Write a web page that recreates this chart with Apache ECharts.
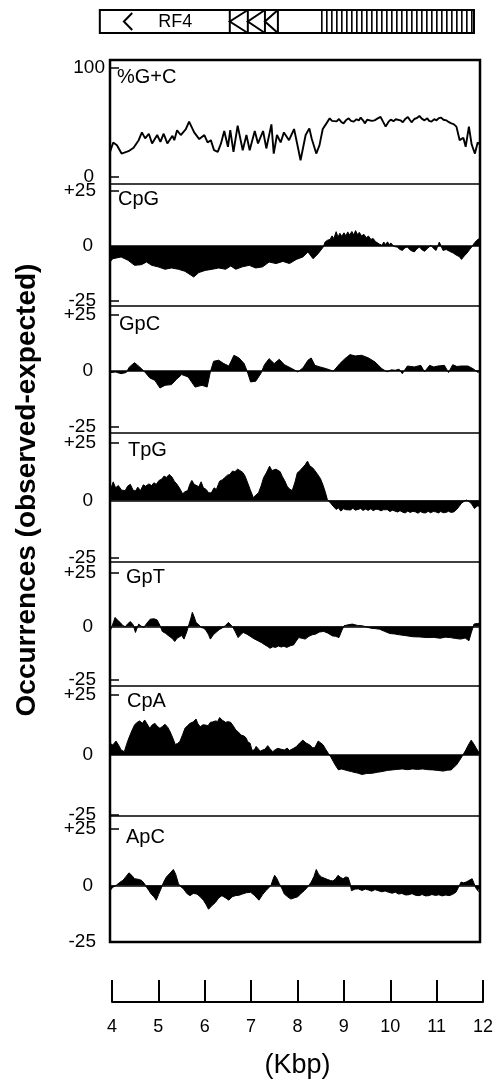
<!DOCTYPE html>
<html>
<head>
<meta charset="utf-8">
<script src="https://cdn.jsdelivr.net/npm/echarts@6.0.0/dist/echarts.min.js"></script>
<style>
html, body { margin: 0; padding: 0; background: #fff; }
#chart { width: 502px; height: 1084px; }
</style>
</head>
<body>
<div id="chart"></div>
<script>
// ---- data (kbp, value) ----
var kbpTicks = [4, 5, 6, 7, 8, 9, 10, 11, 12];
var panelNames = ['%G+C', 'CpG', 'GpC', 'TpG', 'GpT', 'CpA', 'ApC'];
var gcTicks = [0, 100];
var diTicks = [-25, 25];
var diLabels = [-25, 0, 25];

// gene map: [start kbp, end kbp, kind, text]
var geneMap = [
  [3.78, 11.87, 'box'],
  [4.30, 4.48, 'arrow'],
  [5.41, 5.41, 'label', 'RF4'],
  [6.59, 6.98, 'chevron'],
  [6.98, 7.35, 'chevron'],
  [7.35, 7.63, 'chevron'],
  [7.63, 7.63, 'edge'],
  [8.58, 11.87, 'repeat']
];

var gcData = [[4.00,23.1],[4.07,31.7],[4.15,29.2],[4.25,21.5],[4.40,23.7],[4.51,26.8],[4.62,33.8],[4.69,40.9],[4.76,35.4],[4.84,39.7],[4.91,30.8],[5.02,38.5],[5.09,32.3],[5.16,39.7],[5.24,30.8],[5.35,37.8],[5.39,33.8],[5.45,42.8],[5.53,38.5],[5.64,44.0],[5.71,50.8],[5.82,40.9],[5.93,34.8],[6.04,38.5],[6.11,31.7],[6.18,33.8],[6.25,24.6],[6.33,23.1],[6.40,30.8],[6.47,42.2],[6.55,27.7],[6.60,43.1],[6.67,23.1],[6.76,47.1],[6.87,24.6],[6.95,38.5],[7.02,24.6],[7.13,42.2],[7.20,30.8],[7.31,42.2],[7.38,26.2],[7.49,48.3],[7.54,21.5],[7.61,38.5],[7.69,31.7],[7.76,40.9],[7.87,33.8],[7.98,44.0],[8.05,29.8],[8.12,15.4],[8.23,38.5],[8.31,44.6],[8.36,35.4],[8.46,21.5],[8.53,29.2],[8.60,44.0],[8.68,49.2],[8.75,53.8],[8.80,51.5],[8.84,52.8],[8.90,51.0],[8.95,53.2],[9.00,50.5],[9.05,49.2],[9.10,52.0],[9.16,53.8],[9.21,51.5],[9.27,50.8],[9.33,53.0],[9.38,51.8],[9.42,54.5],[9.47,52.0],[9.51,49.2],[9.56,52.5],[9.60,53.8],[9.66,51.5],[9.72,52.0],[9.78,53.5],[9.85,55.1],[9.90,51.0],[9.96,46.2],[10.02,50.5],[10.07,52.6],[10.13,51.2],[10.18,53.0],[10.22,53.8],[10.28,52.0],[10.33,50.2],[10.39,53.5],[10.44,55.1],[10.48,52.5],[10.52,50.2],[10.58,53.2],[10.63,54.0],[10.69,56.0],[10.74,53.5],[10.80,52.0],[10.86,53.8],[10.90,51.5],[10.95,50.8],[11.01,53.0],[11.06,52.0],[11.11,54.0],[11.16,54.5],[11.21,52.5],[11.27,52.0],[11.32,50.5],[11.38,49.2],[11.43,48.5],[11.49,46.2],[11.56,33.8],[11.64,36.0],[11.69,27.7],[11.76,46.2],[11.82,29.8],[11.89,21.5],[11.95,31.7],[12.00,29.8]];

var cpgData = [[4.00,-7.3],[4.06,-5.8],[4.24,-5.0],[4.39,-6.5],[4.53,-8.8],[4.68,-8.5],[4.79,-7.3],[4.90,-8.8],[5.04,-9.5],[5.19,-10.6],[5.33,-10.0],[5.48,-10.6],[5.62,-11.5],[5.73,-13.0],[5.81,-14.1],[5.92,-12.1],[6.06,-11.1],[6.21,-10.6],[6.35,-10.0],[6.50,-10.6],[6.61,-9.1],[6.72,-10.6],[6.86,-9.5],[7.01,-8.8],[7.15,-10.0],[7.30,-9.5],[7.44,-7.3],[7.59,-8.0],[7.74,-7.0],[7.88,-8.0],[8.03,-6.1],[8.17,-5.0],[8.28,-2.7],[8.39,-5.8],[8.50,-3.5],[8.61,-0.5],[8.65,1.8],[8.70,2.6],[8.76,3.0],[8.80,4.6],[8.84,3.4],[8.89,6.5],[8.93,4.0],[8.97,5.8],[9.01,4.4],[9.06,6.0],[9.10,4.6],[9.14,6.4],[9.18,5.0],[9.23,6.6],[9.27,5.0],[9.31,7.0],[9.35,5.2],[9.39,6.2],[9.44,4.6],[9.49,5.3],[9.54,3.8],[9.59,4.5],[9.64,3.0],[9.69,3.4],[9.74,2.0],[9.78,2.4],[9.83,0.8],[9.88,0.3],[9.92,1.8],[9.96,0.6],[10.00,1.9],[10.04,0.4],[10.07,1.4],[10.14,-0.2],[10.21,-0.5],[10.27,-1.6],[10.32,-2.0],[10.38,-0.8],[10.43,-0.5],[10.50,-2.0],[10.58,-2.7],[10.64,-1.2],[10.69,-0.5],[10.75,-1.8],[10.80,-2.4],[10.87,-1.0],[10.94,0.3],[11.00,-1.2],[11.05,-2.0],[11.12,1.8],[11.20,-2.0],[11.27,-1.6],[11.34,-2.4],[11.42,-3.2],[11.49,-4.2],[11.55,-4.8],[11.60,-6.1],[11.66,-4.5],[11.71,-3.5],[11.77,-1.8],[11.82,-0.5],[11.88,1.4],[11.93,2.6],[12.00,3.6]];

var gpcData = [[4.00,-0.7],[4.12,-0.5],[4.24,-1.2],[4.35,-0.7],[4.42,1.8],[4.53,3.7],[4.64,1.8],[4.75,-0.4],[4.86,-3.1],[4.97,-4.2],[5.08,-7.6],[5.19,-6.4],[5.33,-6.1],[5.44,-3.7],[5.55,-1.6],[5.69,-2.7],[5.84,-7.2],[5.99,-6.4],[6.10,-7.2],[6.17,-0.4],[6.24,4.3],[6.35,4.8],[6.46,3.3],[6.57,2.2],[6.68,7.0],[6.79,5.8],[6.90,3.3],[6.97,-0.4],[7.04,-4.9],[7.15,-4.6],[7.26,-1.2],[7.34,2.8],[7.44,5.5],[7.55,3.3],[7.66,5.2],[7.77,2.8],[7.91,1.3],[8.06,-0.4],[8.17,1.3],[8.28,4.8],[8.35,5.8],[8.43,2.5],[8.54,1.8],[8.68,1.0],[8.83,-0.1],[8.97,3.3],[9.08,5.5],[9.19,7.3],[9.30,6.7],[9.44,7.0],[9.59,5.8],[9.73,4.0],[9.88,1.0],[9.99,-0.4],[10.08,0.5],[10.17,0.3],[10.25,0.8],[10.32,-1.2],[10.43,2.2],[10.58,1.8],[10.72,2.5],[10.80,-0.4],[10.91,2.5],[11.00,1.8],[11.09,2.2],[11.23,2.5],[11.32,-0.7],[11.41,2.8],[11.50,2.0],[11.59,2.2],[11.74,2.2],[11.85,1.0],[11.96,-0.7],[12.00,0.3]];

var tpgData = [[4.00,4.1],[4.07,8.1],[4.12,5.5],[4.18,6.5],[4.25,4.5],[4.33,4.3],[4.38,6.2],[4.44,7.0],[4.50,4.5],[4.55,4.1],[4.60,5.8],[4.66,4.3],[4.72,6.8],[4.77,6.2],[4.84,7.2],[4.90,6.5],[4.95,7.7],[5.00,7.0],[5.06,8.7],[5.12,9.3],[5.17,10.6],[5.22,10.0],[5.28,11.3],[5.34,10.2],[5.39,8.4],[5.45,7.0],[5.50,5.5],[5.57,2.9],[5.62,3.8],[5.68,4.3],[5.73,7.2],[5.77,8.7],[5.82,7.0],[5.86,7.7],[5.92,6.0],[5.97,8.1],[6.02,5.5],[6.08,4.8],[6.13,3.4],[6.19,3.3],[6.25,5.5],[6.30,4.8],[6.37,8.4],[6.43,9.0],[6.48,9.9],[6.54,11.0],[6.59,11.3],[6.65,12.8],[6.70,12.5],[6.76,13.6],[6.81,13.0],[6.87,12.2],[6.92,10.6],[6.98,7.5],[7.03,4.8],[7.10,1.2],[7.16,2.5],[7.21,3.3],[7.27,6.5],[7.32,9.9],[7.38,12.0],[7.45,14.9],[7.50,13.0],[7.54,12.8],[7.59,13.6],[7.63,14.2],[7.68,12.5],[7.72,10.6],[7.78,8.5],[7.83,6.2],[7.88,5.0],[7.94,4.3],[8.00,8.0],[8.05,12.0],[8.10,12.8],[8.16,14.2],[8.22,15.5],[8.27,17.1],[8.32,15.0],[8.38,14.2],[8.43,13.0],[8.49,11.3],[8.55,9.5],[8.60,7.0],[8.65,4.0],[8.70,0.4],[8.78,-1.4],[8.84,-2.8],[8.89,-3.9],[8.94,-3.2],[8.99,-4.6],[9.05,-3.6],[9.10,-4.0],[9.14,-3.5],[9.20,-4.1],[9.25,-3.4],[9.31,-4.2],[9.36,-3.9],[9.42,-3.5],[9.47,-4.3],[9.53,-3.7],[9.58,-4.3],[9.64,-3.6],[9.69,-4.4],[9.75,-3.8],[9.80,-3.9],[9.86,-4.5],[9.91,-4.0],[9.94,-4.6],[10.00,-4.0],[10.05,-4.8],[10.11,-4.2],[10.16,-4.6],[10.22,-5.0],[10.27,-4.4],[10.33,-5.1],[10.38,-5.4],[10.44,-4.6],[10.49,-5.2],[10.55,-4.7],[10.60,-4.9],[10.66,-5.5],[10.71,-4.8],[10.77,-5.3],[10.82,-5.4],[10.88,-4.7],[10.93,-5.3],[10.99,-4.8],[11.04,-4.9],[11.10,-5.4],[11.15,-4.8],[11.21,-5.3],[11.26,-5.2],[11.32,-4.7],[11.38,-5.2],[11.44,-4.9],[11.50,-3.8],[11.55,-2.5],[11.60,-1.2],[11.66,-0.3],[11.71,0.2],[11.77,-0.6],[11.82,-1.5],[11.88,-3.5],[11.94,-2.4],[12.00,-2.5]];

var gptData = [[4.00,-2.3],[4.05,0.5],[4.11,4.2],[4.16,3.0],[4.22,1.9],[4.27,0.6],[4.33,-0.2],[4.38,1.2],[4.44,2.3],[4.50,0.8],[4.55,-2.8],[4.59,-0.5],[4.62,1.1],[4.67,0.2],[4.73,-0.5],[4.80,1.6],[4.87,3.4],[4.95,3.6],[5.02,3.0],[5.08,0.5],[5.13,-2.3],[5.20,-3.2],[5.27,-4.4],[5.34,-5.5],[5.40,-7.0],[5.45,-5.5],[5.49,-4.8],[5.55,-4.2],[5.60,-5.9],[5.66,-2.5],[5.71,1.1],[5.75,4.0],[5.78,6.6],[5.82,4.5],[5.86,1.9],[5.92,0.8],[5.97,-0.5],[6.03,-0.8],[6.08,-2.0],[6.13,-3.8],[6.17,-5.9],[6.23,-4.0],[6.29,-2.8],[6.36,-1.5],[6.44,-0.5],[6.50,0.5],[6.56,1.9],[6.61,0.8],[6.66,-0.5],[6.71,-2.5],[6.77,-5.2],[6.82,-4.0],[6.88,-2.8],[6.95,-3.5],[7.02,-4.4],[7.10,-5.6],[7.20,-6.7],[7.28,-7.6],[7.35,-8.6],[7.41,-9.4],[7.46,-10.2],[7.52,-9.5],[7.58,-9.8],[7.64,-9.1],[7.70,-9.6],[7.76,-9.2],[7.82,-9.8],[7.90,-9.0],[7.97,-8.6],[8.02,-7.0],[8.08,-5.2],[8.15,-5.5],[8.22,-5.9],[8.30,-4.6],[8.37,-3.9],[8.44,-3.6],[8.53,-2.6],[8.62,-2.3],[8.70,-3.0],[8.81,-4.4],[8.88,-4.6],[8.95,-5.2],[9.01,-2.0],[9.06,0.3],[9.15,0.8],[9.24,1.1],[9.35,0.5],[9.46,0.3],[9.55,-0.3],[9.64,-0.8],[9.73,-1.0],[9.83,-1.3],[9.94,-2.3],[10.05,-3.3],[10.15,-3.5],[10.26,-3.9],[10.40,-4.3],[10.55,-4.8],[10.70,-4.9],[10.85,-5.2],[11.00,-5.1],[11.14,-5.5],[11.25,-5.0],[11.36,-5.2],[11.47,-5.6],[11.58,-5.9],[11.68,-5.4],[11.76,-6.7],[11.81,-3.0],[11.87,1.1],[11.94,1.4],[12.00,1.4]];

var cpaData = [[4.00,4.9],[4.06,4.2],[4.13,5.8],[4.19,4.0],[4.24,2.1],[4.31,1.4],[4.36,4.5],[4.41,7.2],[4.47,10.0],[4.53,12.5],[4.58,13.5],[4.64,14.2],[4.70,13.2],[4.75,14.6],[4.80,13.0],[4.86,11.1],[4.91,12.5],[4.97,13.2],[5.02,12.0],[5.08,11.1],[5.14,12.0],[5.19,12.8],[5.25,11.5],[5.30,9.7],[5.36,7.0],[5.41,4.4],[5.46,4.8],[5.51,5.6],[5.57,8.5],[5.62,11.1],[5.68,12.3],[5.73,13.2],[5.80,13.8],[5.86,15.0],[5.90,13.0],[5.95,11.8],[6.01,12.6],[6.06,12.5],[6.12,12.2],[6.17,13.6],[6.22,13.8],[6.28,14.2],[6.33,14.0],[6.37,15.6],[6.43,14.5],[6.50,13.6],[6.55,13.9],[6.61,13.6],[6.67,12.0],[6.72,10.4],[6.78,9.5],[6.83,8.3],[6.89,8.0],[6.94,7.2],[6.98,5.5],[7.03,4.9],[7.07,2.0],[7.12,2.1],[7.16,3.6],[7.20,3.9],[7.25,1.6],[7.30,2.1],[7.35,2.4],[7.41,3.9],[7.46,2.6],[7.52,1.4],[7.57,2.2],[7.63,2.8],[7.70,2.4],[7.77,2.1],[7.83,2.9],[7.88,1.9],[7.92,1.4],[7.97,2.8],[8.03,3.5],[8.10,5.0],[8.17,6.2],[8.24,5.0],[8.32,4.2],[8.38,3.0],[8.43,3.1],[8.50,5.8],[8.56,5.0],[8.61,4.2],[8.66,2.5],[8.72,0.7],[8.78,-1.0],[8.83,-2.8],[8.88,-4.5],[8.94,-6.2],[9.00,-5.8],[9.08,-6.2],[9.15,-6.6],[9.22,-6.9],[9.27,-7.2],[9.35,-7.5],[9.45,-8.1],[9.55,-7.7],[9.67,-7.6],[9.78,-7.2],[9.88,-6.9],[10.00,-6.4],[10.10,-6.2],[10.20,-6.0],[10.32,-5.8],[10.43,-6.1],[10.54,-5.8],[10.65,-6.0],[10.76,-5.8],[10.87,-6.1],[10.98,-6.2],[11.09,-6.4],[11.20,-6.7],[11.30,-6.3],[11.38,-6.2],[11.44,-5.0],[11.49,-4.2],[11.56,-2.2],[11.63,0.0],[11.69,2.0],[11.74,3.9],[11.81,6.2],[11.86,4.8],[11.92,2.8],[12.00,0.3]];

var apcData = [[4.00,-2.3],[4.06,-0.8],[4.13,0.0],[4.20,1.2],[4.28,2.3],[4.34,3.8],[4.41,5.6],[4.47,4.5],[4.53,3.0],[4.60,2.8],[4.68,2.3],[4.74,1.0],[4.79,-0.8],[4.84,-2.2],[4.89,-3.8],[4.95,-5.0],[5.00,-6.5],[5.05,-4.0],[5.11,-1.1],[5.16,1.5],[5.22,3.8],[5.30,5.5],[5.37,7.1],[5.42,5.0],[5.48,0.8],[5.53,-0.5],[5.59,-1.5],[5.66,-3.5],[5.73,-4.5],[5.80,-3.5],[5.88,-3.8],[5.95,-5.0],[6.02,-6.5],[6.08,-8.5],[6.13,-10.5],[6.20,-9.0],[6.28,-7.5],[6.35,-5.5],[6.42,-4.5],[6.50,-5.5],[6.57,-6.5],[6.64,-5.0],[6.71,-4.5],[6.79,-4.3],[6.86,-3.8],[6.95,-3.2],[7.04,-3.0],[7.13,-4.5],[7.22,-6.5],[7.30,-4.0],[7.37,-2.3],[7.48,0.0],[7.52,2.5],[7.56,4.5],[7.61,3.0],[7.66,0.8],[7.72,-1.5],[7.77,-3.8],[7.84,-5.0],[7.91,-6.0],[7.98,-5.5],[8.06,-5.0],[8.13,-3.5],[8.20,-2.3],[8.28,-0.5],[8.35,1.5],[8.41,4.0],[8.46,7.1],[8.51,5.0],[8.57,3.8],[8.64,3.2],[8.71,2.6],[8.77,2.2],[8.82,2.0],[8.88,3.0],[8.93,4.5],[8.99,3.5],[9.04,3.0],[9.10,3.8],[9.15,3.5],[9.19,1.0],[9.22,-2.3],[9.30,-1.6],[9.37,-1.5],[9.45,-2.2],[9.52,-1.6],[9.59,-2.0],[9.66,-2.5],[9.73,-1.8],[9.80,-2.3],[9.88,-2.8],[9.95,-2.4],[10.02,-3.0],[10.10,-3.4],[10.17,-3.0],[10.24,-3.8],[10.31,-3.5],[10.39,-4.2],[10.46,-4.1],[10.53,-3.6],[10.60,-4.3],[10.68,-4.5],[10.75,-4.0],[10.82,-4.6],[10.89,-4.5],[10.96,-4.0],[11.04,-4.4],[11.11,-4.1],[11.18,-4.6],[11.26,-4.2],[11.33,-4.5],[11.40,-4.0],[11.48,-3.0],[11.53,-1.0],[11.59,1.5],[11.64,1.2],[11.70,1.5],[11.76,2.2],[11.83,3.0],[11.87,1.0],[11.91,-1.1],[11.96,-2.5],[12.00,-3.0]];

var panelData = [gcData, cpgData, gpcData, tpgData, gptData, cpaData, apcData];

// ---- layout ----
var FONT = '"Liberation Sans", Arial, Helvetica, sans-serif';
var W = 502;
var PLOT_LEFT = 110, PLOT_RIGHT = 22;
var panelTops = [60, 184, 306, 433, 562, 686, 816, 942];
var yRanges = [[-6.4, 107.3], [-27.3, 28.2], [-27.7, 29.0], [-26.7, 29.3], [-27.8, 30.1], [-25.4, 28.75], [-25.0, 30.75]];
var nameLeft = [117, 118, 119, 128, 126, 127, 126];
var nameMid = [78, 200, 325, 451, 578, 702, 838];
var TICK_FONT = 19, NAME_FONT = 20;

// 基因图
function renderGene(params, api) {
    var f = geneMap[params.dataIndex];
    var x0 = api.coord([f[0], 0])[0];
    var x1 = api.coord([f[1], 0])[0];
    var cs = params.coordSys;
    var y0 = cs.y, y1 = cs.y + cs.height, ym = cs.y + cs.height / 2;
    var ink = { stroke: '#000', fill: null, lineWidth: 2 };
    if (f[2] == 'box') {
        return { type: 'rect', shape: { x: x0, y: y0, width: x1 - x0, height: y1 - y0 }, style: ink };
    }
    if (f[2] == 'arrow') {
        return { type: 'polyline', shape: { points: [[x1, y0 + 3], [x0, ym], [x1, y1 - 3]] }, style: ink };
    }
    if (f[2] == 'label') {
        return { type: 'text', x: x0, y: ym + 1, style: { text: f[3], fill: '#000', fontSize: 18, fontFamily: FONT, align: 'center', verticalAlign: 'middle' } };
    }
    if (f[2] == 'chevron') {
        return { type: 'group', children: [
            { type: 'line', shape: { x1: x0, y1: y0, x2: x0, y2: y1 }, style: ink },
            { type: 'polyline', shape: { points: [[x1, y0], [x0, ym], [x1, y1]] }, style: ink }
        ] };
    }
    if (f[2] == 'edge') {
        return { type: 'line', shape: { x1: x0, y1: y0, x2: x0, y2: y1 }, style: ink };
    }
    // repeat region: hatched
    var kids = [];
    for (var x = x0; x < x1 - 2; x += 5) {
        kids.push({ type: 'line', shape: { x1: x, y1: y0, x2: x, y2: y1 }, style: { stroke: '#000', lineWidth: 1.6 } });
    }
    return { type: 'group', children: kids };
}

var grids = [], xAxes = [], yAxes = [], series = [], titles = [];

grids.push({ left: PLOT_LEFT, right: PLOT_RIGHT, top: 10, height: 23 });
xAxes.push({ type: 'value', gridIndex: 0, min: 4, max: 12, show: false });
yAxes.push({ type: 'value', gridIndex: 0, min: 0, max: 1, show: false });
series.push({
    type: 'custom', xAxisIndex: 0, yAxisIndex: 0, silent: true, clip: false,
    renderItem: renderGene,
    data: geneMap.map(function (f) { return [f[0], f[1]]; })
});

for (var i = 0; i < panelNames.length; i++) {
    var g = i + 1;
    var isGc = (i == 0);
    grids.push({
        left: PLOT_LEFT, right: PLOT_RIGHT,
        top: panelTops[i], height: panelTops[i + 1] - panelTops[i],
        show: true, borderColor: '#000', borderWidth: 1.2
    });
    xAxes.push({ type: 'value', gridIndex: g, min: 4, max: 12, show: false });
    yAxes.push({
        type: 'value', gridIndex: g, min: yRanges[i][0], max: yRanges[i][1],
        axisLine: { show: false },
        splitLine: { show: false },
        axisTick: {
            show: true, inside: true, length: 9,
            customValues: isGc ? gcTicks : diTicks,
            lineStyle: { color: '#000', width: 1.5 }
        },
        axisLabel: {
            customValues: isGc ? gcTicks : diLabels,
            margin: isGc ? 5 : 14,
            color: '#000', fontSize: TICK_FONT, fontFamily: FONT,
            formatter: (function (gc) {
                return function (v) {
                    if (v == 0) return gc ? '{z|0}' : '{p|0}';
                    return v > 0 && !gc ? '+' + v : String(v);
                };
            })(isGc),
            rich: {
                z: { fontSize: TICK_FONT, fontFamily: FONT, color: '#000', padding: [0, 11, 0, 0] },
                p: { fontSize: TICK_FONT, fontFamily: FONT, color: '#000', padding: [0, 3, 0, 0] }
            }
        }
    });
    var s = {
        type: 'line', xAxisIndex: g, yAxisIndex: g,
        data: panelData[i], showSymbol: false, silent: true, animation: false,
        lineStyle: { color: '#000', width: isGc ? 1.9 : 1 }
    };
    if (!isGc) {
        s.areaStyle = { color: '#000', opacity: 1, origin: 0 };
        s.markLine = {
            silent: true, symbol: 'none', label: { show: false },
            lineStyle: { color: '#000', width: 1.5, type: 'solid' },
            data: [{ yAxis: 0 }]
        };
    }
    series.push(s);
    titles.push({
        text: panelNames[i], left: nameLeft[i], top: nameMid[i] - 11, padding: 0,
        textStyle: { fontSize: NAME_FONT, fontWeight: 'normal', fontFamily: FONT, color: '#000' }
    });
}

// 刻度尺 (Kbp)
var rg = grids.length;
grids.push({ left: 112, right: 19, top: 980, height: 22 });
xAxes.push({
    type: 'value', gridIndex: rg, min: kbpTicks[0], max: kbpTicks[kbpTicks.length - 1], interval: 1,
    position: 'bottom',
    axisLine: { show: true, lineStyle: { color: '#000', width: 2 } },
    axisTick: { show: true, inside: true, length: 22, lineStyle: { color: '#000', width: 2 } },
    axisLabel: { margin: 16, color: '#000', fontSize: 18, fontFamily: FONT },
    splitLine: { show: false },
    name: '(Kbp)', nameLocation: 'middle', nameGap: 50,
    nameTextStyle: { fontSize: 27, fontFamily: FONT, color: '#000' }
});
yAxes.push({ type: 'value', gridIndex: rg, min: 0, max: 1, show: false });

var chart = echarts.init(document.getElementById('chart'));
chart.setOption({
    backgroundColor: '#fff',
    animation: false,
    title: titles,
    grid: grids,
    xAxis: xAxes,
    yAxis: yAxes,
    series: series,
    graphic: [
        {
            type: 'rect', silent: true, z: 100,
            shape: { x: PLOT_LEFT, y: panelTops[0], width: W - PLOT_LEFT - PLOT_RIGHT, height: panelTops[7] - panelTops[0] },
            style: { fill: null, stroke: '#000', lineWidth: 2.5 }
        },
        {
            type: 'text', x: 27, y: 490, rotation: Math.PI / 2, silent: true,
            style: {
                text: 'Occurrences (observed-expected)', fill: '#000',
                fontSize: 28, fontWeight: 'bold', fontFamily: FONT,
                align: 'center', verticalAlign: 'middle'
            }
        }
    ]
});
</script>
</body>
</html>
